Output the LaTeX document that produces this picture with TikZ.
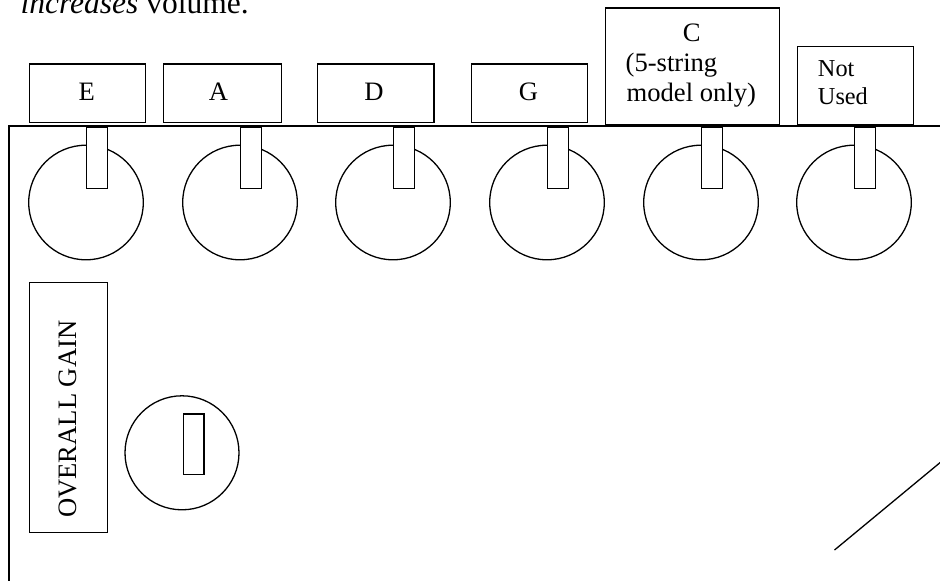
\documentclass[tikz,border=0pt]{standalone}
\usepackage{fontspec}
\setmainfont{Liberation Serif}
\begin{document}
\begin{tikzpicture}[x=1pt,y=-1pt,line width=1.3pt,
  txt/.style={inner sep=0pt,font=\fontsize{26.6}{30}\selectfont},
  smalltxt/.style={inner sep=0pt,font=\fontsize{24.3}{28}\selectfont},
  lblbox/.style={draw,inner sep=0pt,anchor=north west},
  knob/.style={draw,circle,inner sep=0pt,minimum size=114.6pt},
  slider/.style={draw,fill=white,inner sep=0pt,anchor=north west,minimum width=21pt,minimum height=61pt}]
\useasboundingbox (0,0) rectangle (940,581);
% heading text (cut off at the top)
\node[inner sep=0pt,anchor=base west,font=\fontsize{31.5}{34}\selectfont] (head) at (20,13.5) {\itshape increases\upshape\ volume.};
% panel outline
\coordinate (pbl) at (9,583);
\coordinate (ptl) at (9,126);
\coordinate (ptr) at (942,126);
\draw (pbl) -- (ptl) -- (ptr);
% knobs with sliders
\foreach \n/\c in {E/86,A/240,D/393,G/547,C/701,N/854}{
  \node[knob] (k\n) at (\c,202.5) {};
  \node[slider] (s\n) at (\c,126.8) {};
}
% label boxes
\node[lblbox,minimum width=116.3pt,minimum height=58.4pt] (bE) at (28.7,63.3) {};
\node[lblbox,minimum width=118.3pt,minimum height=58.4pt] (bA) at (162.7,63.3) {};
\node[lblbox,minimum width=116.6pt,minimum height=58.4pt] (bD) at (316.7,63.3) {};
\node[lblbox,minimum width=116.3pt,minimum height=58.4pt] (bG) at (470.7,63.3) {};
\node[lblbox,minimum width=174.3pt,minimum height=116.5pt] (bC) at (604.7,7.3) {};
\node[lblbox,minimum width=116pt,minimum height=77.5pt] (bN) at (796.7,46) {};
% label texts
\node[txt,anchor=base] (tE) at (86.8,100) {E};
\node[txt,anchor=base] (tA) at (218.5,100) {A};
\node[txt,anchor=base] (tD) at (374,100) {D};
\node[txt,anchor=base] (tG) at (528.5,100) {G};
\node[txt,anchor=base] (tC1) at (691.7,41.7) {C};
\node[txt,anchor=base west] (tC2) at (625,71.7) {(5-string};
\node[txt,anchor=base west] (tC3) at (626,101.7) {model only)};
\node[smalltxt,anchor=base west] (tN1) at (817.3,76) {Not};
\node[smalltxt,anchor=base west] (tN2) at (817.3,104) {Used};
% overall gain
\node[lblbox,minimum width=78.3pt,minimum height=250pt] (bGain) at (28.7,281.7) {};
\node[txt,anchor=base,rotate=90] (tGain) at (76,419.2) {OVERALL GAIN};
\node[knob,minimum size=114pt] (kGain) at (182,452.8) {};
\node[slider,minimum width=20.6pt,minimum height=60.4pt] (sGain) at (182.7,413.3) {};
% diagonal line
\coordinate (d1) at (834.5,550);
\coordinate (d2) at (942,461);
\draw (d1) -- (d2);
\end{tikzpicture}
\end{document}
